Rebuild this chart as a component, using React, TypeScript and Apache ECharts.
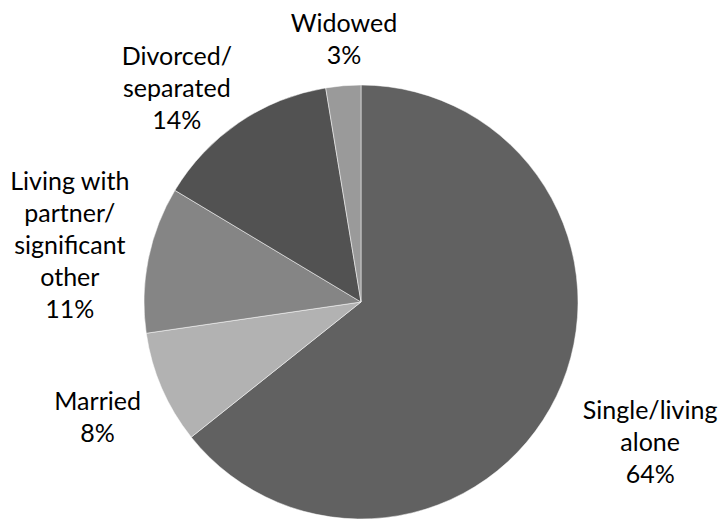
import React, { useEffect, useRef } from "react";
import * as echarts from "echarts";

const categories = [
  "Single/living\nalone",
  "Married",
  "Living with\npartner/\nsignificant\nother",
  "Divorced/\nseparated",
  "Widowed",
];
const values = [64.3, 8.4, 10.9, 13.8, 2.6];
const colors = ["#616161", "#b2b2b2", "#858585", "#525252", "#9a9a9a"];

// label placement (layout, not data): distance from pie centre and angular nudge in degrees
const labelRadius = [321, 287, 297, 283, 265];
const labelAngleShift = [0, 0, 0, -6.4, 1];

const CX = 361;
const CY = 302;
const R = 217;

export default function App() {
  const ref = useRef<HTMLDivElement>(null);
  useEffect(() => {
    if (!ref.current) return;
    const chart = echarts.init(ref.current, null, { renderer: "svg" });
    const total = values.reduce((a, b) => a + b, 0);
    const mids: number[] = [];
    let cum = 0;
    values.forEach((v) => {
      mids.push(((cum + v / 2) / total) * 360);
      cum += v;
    });
    chart.setOption({
      animation: false,
      backgroundColor: "#ffffff",
      series: [
        {
          type: "pie",
          center: [CX, CY],
          radius: [0, R],
          startAngle: 90,
          clockwise: true,
          avoidLabelOverlap: false,
          itemStyle: { borderColor: "#ffffff", borderWidth: 0.5 },
          label: {
            show: true,
            position: "outside",
            formatter: (p: any) => `${p.name}\n${Math.round(p.percent)}%`,
            fontFamily: "Lato",
            fontSize: 25,
            lineHeight: 32,
            color: "#000000",
            align: "center",
          },
          labelLine: { show: false },
          labelLayout: (params: any) => {
            const i = params.dataIndex;
            const th = ((mids[i] + labelAngleShift[i]) * Math.PI) / 180;
            const r = labelRadius[i];
            return {
              x: CX + r * Math.sin(th),
              y: CY - r * Math.cos(th),
              align: "center",
              verticalAlign: "middle",
            };
          },
          emphasis: { disabled: true },
          data: categories.map((c, i) => ({
            name: c,
            value: values[i],
            itemStyle: { color: colors[i] },
          })),
        },
      ],
    });
    return () => chart.dispose();
  }, []);
  return (
    <div
      ref={ref}
      style={{ position: "fixed", left: 0, top: 0, width: 721, height: 520 }}
    />
  );
}
